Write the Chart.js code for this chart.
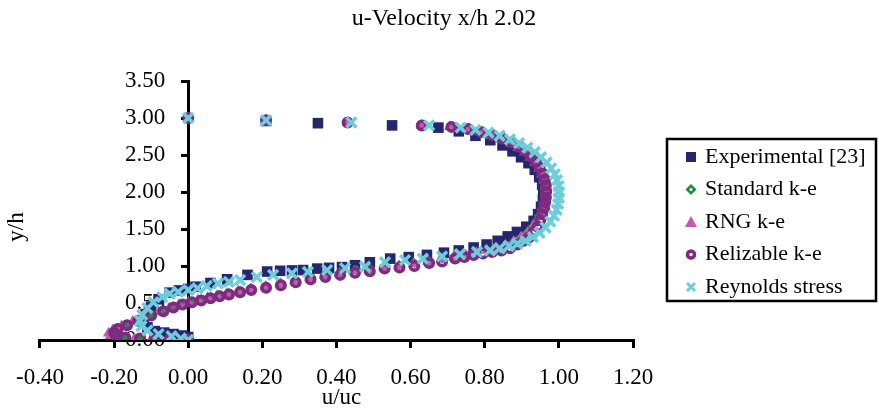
<!DOCTYPE html>
<html>
<head>
<meta charset="utf-8">
<script src="https://cdn.jsdelivr.net/npm/chart.js@4.4.1/dist/chart.umd.min.js"></script>
<style>
  html, body { margin: 0; padding: 0; background: #fff; }
  canvas { display: block; }
</style>
</head>
<body>
<canvas id="profile" width="879" height="412"></canvas>
<script>
// u-velocity profile at x/h = 2.02, pairs are [u/uc, y/h]
const experimental = [
  [0.21,2.96],[0.35,2.93],[0.55,2.90],[0.675,2.87],[0.73,2.82],[0.775,2.76],[0.815,2.70],
  [0.848,2.63],[0.875,2.55],[0.898,2.47],[0.918,2.39],[0.935,2.30],[0.947,2.20],[0.955,2.10],
  [0.958,2.00],[0.957,1.90],[0.952,1.80],[0.944,1.70],[0.932,1.61],[0.912,1.53],[0.887,1.46],
  [0.862,1.40],[0.835,1.34],[0.805,1.29],[0.77,1.25],[0.73,1.21],[0.69,1.18],[0.644,1.15],
  [0.595,1.12],[0.545,1.10],[0.49,1.05],[0.45,1.01],[0.415,0.985],[0.38,0.975],[0.348,0.965],
  [0.31,0.945],[0.28,0.94],[0.248,0.935],[0.213,0.925],[0.16,0.88],[0.105,0.82],[0.06,0.77],
  [0.02,0.72],[0.00,0.69],[-0.025,0.67],[-0.05,0.64],[-0.08,0.55],[-0.10,0.45],[-0.115,0.35],
  [-0.12,0.25],[-0.11,0.17],[-0.09,0.12],[-0.065,0.10],[-0.04,0.08],[-0.015,0.06],[0.00,0.04]
];

const standardKE = [
  [0.00,3.00],[0.21,2.97],[0.43,2.94],[0.63,2.90],[0.71,2.88],[0.755,2.85],[0.79,2.81],
  [0.82,2.77],[0.848,2.72],[0.872,2.66],[0.892,2.60],[0.909,2.54],[0.923,2.47],[0.935,2.40],
  [0.945,2.32],[0.953,2.24],[0.958,2.16],[0.961,2.08],[0.962,2.00],[0.961,1.92],[0.958,1.84],
  [0.953,1.76],[0.946,1.68],[0.937,1.60],[0.926,1.52],[0.913,1.45],[0.897,1.39],[0.878,1.33],
  [0.857,1.28],[0.833,1.24],[0.808,1.21],[0.78,1.18],[0.75,1.15],[0.72,1.13],[0.685,1.10],
  [0.65,1.07],[0.61,1.04],[0.57,1.01],[0.53,0.99],[0.49,0.97],[0.455,0.945],[0.41,0.91],
  [0.37,0.88],[0.33,0.85],[0.29,0.81],[0.25,0.77],[0.21,0.73],[0.17,0.70],[0.14,0.67],
  [0.11,0.635],[0.085,0.61],[0.06,0.58],[0.035,0.55],[0.01,0.525],[-0.015,0.49],[-0.04,0.45],
  [-0.067,0.40],[-0.10,0.34],[-0.135,0.27],[-0.165,0.21],[-0.19,0.155],[-0.20,0.105],
  [-0.195,0.065],[-0.17,0.035],[-0.13,0.02],[-0.09,0.012],[-0.05,0.006],[0.00,0.00]
];

const rngKE = [
  [0.00,3.00],[0.21,2.97],[0.43,2.94],[0.63,2.90],[0.705,2.88],[0.75,2.85],[0.787,2.81],
  [0.818,2.76],[0.845,2.71],[0.87,2.66],[0.89,2.60],[0.908,2.54],[0.923,2.47],[0.936,2.40],
  [0.946,2.32],[0.954,2.24],[0.96,2.16],[0.963,2.08],[0.964,2.00],[0.963,1.92],[0.96,1.84],
  [0.955,1.76],[0.948,1.68],[0.94,1.60],[0.929,1.52],[0.915,1.45],[0.898,1.39],[0.878,1.33],
  [0.856,1.28],[0.832,1.24],[0.806,1.21],[0.778,1.18],[0.748,1.15],[0.716,1.12],[0.682,1.09],
  [0.646,1.06],[0.608,1.03],[0.568,1.00],[0.528,0.98],[0.488,0.95],[0.448,0.93],[0.408,0.90],
  [0.368,0.87],[0.328,0.84],[0.288,0.80],[0.248,0.76],[0.208,0.72],[0.168,0.69],[0.135,0.66],
  [0.105,0.63],[0.078,0.60],[0.052,0.57],[0.026,0.54],[0.00,0.51],[-0.025,0.48],[-0.052,0.43],
  [-0.08,0.38],[-0.115,0.32],[-0.15,0.25],[-0.18,0.19],[-0.203,0.14],[-0.215,0.09],
  [-0.21,0.055],[-0.185,0.03],[-0.145,0.018],[-0.10,0.01],[-0.055,0.005],[0.00,0.00]
];

const relizableKE = [
  [0.00,3.00],[0.21,2.97],[0.43,2.94],[0.63,2.90],[0.71,2.88],[0.755,2.85],[0.79,2.81],
  [0.82,2.77],[0.848,2.72],[0.872,2.67],[0.893,2.61],[0.91,2.55],[0.925,2.48],[0.938,2.41],
  [0.948,2.33],[0.956,2.25],[0.962,2.17],[0.965,2.09],[0.966,2.01],[0.965,1.93],[0.963,1.86],
  [0.96,1.78],[0.955,1.70],[0.95,1.62],[0.943,1.53],[0.932,1.46],[0.92,1.39],[0.905,1.34],
  [0.888,1.29],[0.868,1.24],[0.845,1.21],[0.82,1.19],[0.795,1.17],[0.77,1.15],[0.745,1.12],
  [0.72,1.10],[0.685,1.06],[0.65,1.04],[0.61,1.00],[0.57,0.98],[0.53,0.965],[0.49,0.93],
  [0.45,0.91],[0.41,0.88],[0.37,0.85],[0.33,0.82],[0.29,0.78],[0.25,0.74],[0.21,0.705],
  [0.17,0.675],[0.14,0.645],[0.11,0.615],[0.085,0.59],[0.06,0.565],[0.035,0.535],[0.01,0.51],
  [-0.015,0.48],[-0.04,0.44],[-0.067,0.39],[-0.10,0.33],[-0.135,0.26],[-0.165,0.20],
  [-0.19,0.15],[-0.20,0.10],[-0.195,0.06],[-0.17,0.035],[-0.13,0.02],[-0.09,0.012],
  [-0.05,0.006],[0.00,0.00]
];

const reynoldsStress = [
  [0.00,3.00],[0.21,2.97],[0.44,2.94],[0.65,2.90],[0.735,2.87],[0.775,2.84],[0.81,2.80],
  [0.84,2.76],[0.868,2.71],[0.893,2.66],[0.915,2.60],[0.935,2.54],[0.952,2.47],[0.967,2.40],
  [0.979,2.32],[0.989,2.24],[0.995,2.16],[0.999,2.08],[1.00,2.00],[1.00,1.92],[0.998,1.84],
  [0.994,1.76],[0.987,1.68],[0.977,1.60],[0.964,1.52],[0.948,1.45],[0.93,1.39],[0.91,1.34],
  [0.888,1.30],[0.865,1.27],[0.84,1.24],[0.814,1.21],[0.779,1.19],[0.733,1.16],[0.685,1.13],
  [0.633,1.10],[0.585,1.08],[0.531,1.05],[0.477,0.99],[0.423,0.97],[0.375,0.945],[0.323,0.92],
  [0.28,0.90],[0.229,0.88],[0.185,0.85],[0.14,0.81],[0.11,0.785],[0.08,0.765],[0.05,0.73],
  [0.025,0.70],[0.00,0.675],[-0.027,0.65],[-0.05,0.625],[-0.07,0.58],[-0.094,0.51],
  [-0.11,0.43],[-0.124,0.34],[-0.13,0.26],[-0.126,0.19],[-0.11,0.13],[-0.08,0.08],
  [-0.045,0.05],[-0.02,0.02],[0.00,0.00]
];

const seriesNames = ['Experimental [23]', 'Standard k-e', 'RNG k-e', 'Relizable k-e', 'Reynolds stress'];
const xTickLabels = ['-0.40', '-0.20', '0.00', '0.20', '0.40', '0.60', '0.80', '1.00', '1.20'];
const yTickLabels = ['0.00', '0.50', '1.00', '1.50', '2.00', '2.50', '3.00', '3.50'];

const NAVY = '#26266e';
const GREEN = '#1f8b3b';
const PINK = '#c35ba9';
const PURPLE = '#7d2a80';
const CYAN = '#6ccddb';
const SERIF = '"Liberation Serif", "Times New Roman", serif';

Chart.defaults.font.family = SERIF;
Chart.defaults.color = '#000';

const toPoints = pairs => pairs.map(([u, y]) => ({ x: u, y: y }));

// small marker glyphs for the legend panel
function drawKey(ctx, i, x, y) {
  ctx.save();
  if (i === 0) {
    ctx.fillStyle = NAVY;
    ctx.fillRect(x - 5, y - 5, 10, 10);
  } else if (i === 1) {
    ctx.fillStyle = GREEN;
    ctx.beginPath();
    ctx.moveTo(x, y - 5.5); ctx.lineTo(x + 5.5, y); ctx.lineTo(x, y + 5.5); ctx.lineTo(x - 5.5, y);
    ctx.closePath(); ctx.fill();
    ctx.fillStyle = '#fff';
    ctx.beginPath(); ctx.arc(x, y, 1.5, 0, Math.PI * 2); ctx.fill();
  } else if (i === 2) {
    ctx.fillStyle = PINK;
    ctx.beginPath();
    ctx.moveTo(x, y - 6); ctx.lineTo(x + 6, y + 5); ctx.lineTo(x - 6, y + 5);
    ctx.closePath(); ctx.fill();
  } else if (i === 3) {
    ctx.strokeStyle = PURPLE; ctx.lineWidth = 3.5;
    ctx.beginPath(); ctx.arc(x, y, 3.5, 0, Math.PI * 2); ctx.stroke();
  } else {
    ctx.strokeStyle = CYAN; ctx.lineWidth = 3;
    ctx.beginPath();
    ctx.moveTo(x - 4, y - 4); ctx.lineTo(x + 4, y + 4);
    ctx.moveTo(x + 4, y - 4); ctx.lineTo(x - 4, y + 4);
    ctx.stroke();
  }
  ctx.restore();
}

// title, axis captions and the boxed legend on the right
const decorations = {
  id: 'decorations',
  afterDraw(chart) {
    const ctx = chart.ctx;
    const area = chart.chartArea;
    ctx.save();
    ctx.fillStyle = '#000';
    ctx.font = '24px ' + SERIF;
    ctx.textAlign = 'center';
    ctx.textBaseline = 'alphabetic';
    ctx.fillText('u-Velocity x/h 2.02', 444, 25);

    ctx.font = '23px ' + SERIF;
    ctx.textBaseline = 'middle';
    ctx.fillText('u/uc', (area.left + area.right) / 2 + 5, 398);

    ctx.save();
    ctx.translate(17, 227);
    ctx.rotate(-Math.PI / 2);
    ctx.fillText('y/h', 0, 0);
    ctx.restore();

    ctx.lineWidth = 2.5;
    ctx.strokeStyle = '#000';
    ctx.strokeRect(667, 139, 209, 162);
    ctx.font = '22px ' + SERIF;
    ctx.textAlign = 'left';
    seriesNames.forEach((name, i) => {
      const y = 157 + i * 32.5;
      drawKey(ctx, i, 691, y);
      ctx.fillText(name, 705, y);
    });
    ctx.restore();
  }
};

new Chart(document.getElementById('profile'), {
  type: 'scatter',
  data: {
    datasets: [
      { label: seriesNames[0], data: toPoints(experimental), order: 5,
        pointStyle: 'rect', pointRadius: 7.5, backgroundColor: NAVY, borderColor: NAVY, borderWidth: 0 },
      { label: seriesNames[1], data: toPoints(standardKE), order: 4,
        pointStyle: 'rectRot', pointRadius: 5, backgroundColor: GREEN, borderColor: GREEN, borderWidth: 0 },
      { label: seriesNames[2], data: toPoints(rngKE), order: 3,
        pointStyle: 'triangle', pointRadius: 6.5, backgroundColor: PINK, borderColor: PINK, borderWidth: 0 },
      { label: seriesNames[3], data: toPoints(relizableKE), order: 2,
        pointStyle: 'circle', pointRadius: 4.2, backgroundColor: 'rgba(0,0,0,0)', borderColor: PURPLE, borderWidth: 3.6 },
      { label: seriesNames[4], data: toPoints(reynoldsStress), order: 1,
        pointStyle: 'crossRot', pointRadius: 7, backgroundColor: CYAN, borderColor: CYAN, borderWidth: 3.5 }
    ]
  },
  options: {
    responsive: false,
    animation: false,
    events: [],
    layout: { padding: { left: 30, right: 246, top: 81, bottom: 4.4 } },
    plugins: {
      legend: { display: false },
      title: { display: false },
      tooltip: { enabled: false }
    },
    scales: {
      x: {
        type: 'linear',
        position: 'bottom',
        min: -0.4,
        max: 1.2,
        afterBuildTicks: s => { s.ticks = xTickLabels.map(t => ({ value: parseFloat(t) })); },
        ticks: {
          callback: (v, i) => xTickLabels[i],
          font: { size: 23, lineHeight: 1.2 },
          padding: 16,
          maxRotation: 0,
          autoSkip: false
        },
        grid: { drawOnChartArea: false, drawTicks: true, tickLength: 8, lineWidth: 3, color: '#000' },
        border: { display: true, width: 3, color: '#000' }
      },
      y: {
        type: 'linear',
        position: { x: 0 },
        min: 0,
        max: 3.5,
        afterBuildTicks: s => { s.ticks = yTickLabels.map(t => ({ value: parseFloat(t) })); },
        ticks: {
          // labels on a mid-chart axis sit flush with the line, en spaces keep them clear of it
          callback: (v, i) => yTickLabels[i] + '\u2002\u2002',
          font: { size: 23 },
          autoSkip: false
        },
        grid: { drawOnChartArea: false, drawTicks: true, tickLength: 6, lineWidth: 3, color: '#000' },
        border: { display: true, width: 3, color: '#000' }
      }
    }
  },
  plugins: [decorations]
});
</script>
</body>
</html>
